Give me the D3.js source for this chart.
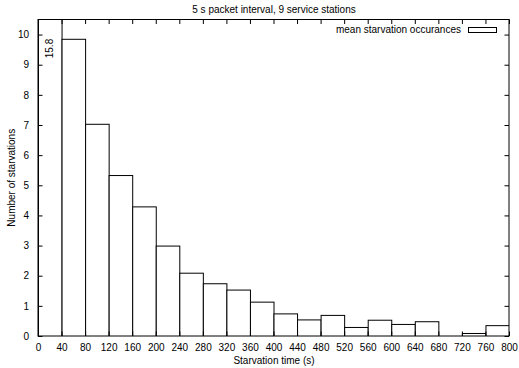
<!DOCTYPE html>
<html>
<head>
<meta charset="utf-8">
<script src="https://cdn.jsdelivr.net/npm/d3@7"></script>
<style>
  html, body { margin: 0; padding: 0; background: #fff; }
  svg { display: block; font-family: "Liberation Sans", Arial, Helvetica, sans-serif; }
</style>
</head>
<body>
<svg id="chart" width="519" height="368"></svg>
<script>
// Histogram bins: lower edge of each 40 s bin
const binStarts = [0, 40, 80, 120, 160, 200, 240, 280, 320, 360, 400, 440, 480, 520, 560, 600, 640, 680, 720, 760];
const binWidth = 40;
// Mean starvation occurrences per bin
const starvations = [15.8, 9.86, 7.04, 5.34, 4.30, 3.0, 2.10, 1.75, 1.54, 1.14, 0.75, 0.55, 0.70, 0.30, 0.54, 0.40, 0.49, 0, 0.10, 0.36];
const xTicks = d3.range(0, 801, 40);
const yTicks = d3.range(0, 11, 1);

const title = "5 s packet interval, 9 service stations";
const xLabel = "Starvation time (s)";
const yLabel = "Number of starvations";
const legendLabel = "mean starvation occurances";

const fontSize = 10;
const svg = d3.select("#chart");
const plotLeft = 38, plotRight = 509, plotTop = 19.5, plotBottom = 336;

const x = d3.scaleLinear().domain([0, 800]).range([plotLeft, plotRight]);
const y = d3.scaleLinear().domain([0, 10.5]).range([plotBottom, plotTop]);

svg.append("clipPath").attr("id", "plotClip")
  .append("rect").attr("x", plotLeft).attr("y", plotTop)
  .attr("width", plotRight - plotLeft).attr("height", plotBottom - plotTop);

// Bars
svg.append("g").attr("clip-path", "url(#plotClip)")
  .selectAll("rect").data(starvations).join("rect")
  .attr("x", (d, i) => x(binStarts[i]) + 0.5)
  .attr("y", d => y(d) + 0.5)
  .attr("width", x(binWidth) - x(0))
  .attr("height", d => y(0) - y(d))
  .attr("fill", "#fff")
  .attr("stroke", "#000")
  .attr("stroke-width", 1);

// Label for the bin that runs off the top of the scale
starvations.forEach((v, i) => {
  if (v > y.domain()[1]) {
    const cx = x(binStarts[i] + binWidth / 2);
    const ty = y(9.86);
    svg.append("text")
      .attr("transform", `translate(${cx + 3.5},${ty}) rotate(-90)`)
      .attr("text-anchor", "end")
      .attr("font-size", fontSize)
      .attr("fill", "#000")
      .text(v.toFixed(1));
  }
});

// Axes with inward ticks (mirrored on top/right)
const tickLen = 4.5;
const fmt = d3.format("d");
svg.append("g").attr("transform", `translate(0,${plotBottom})`)
  .call(d3.axisBottom(x).tickValues(xTicks).tickSize(-tickLen).tickPadding(8).tickFormat(fmt))
  .call(g => g.select(".domain").remove());
svg.append("g").attr("transform", `translate(0,${plotTop})`)
  .call(d3.axisTop(x).tickValues(xTicks).tickSize(-tickLen).tickFormat(""))
  .call(g => g.select(".domain").remove());
svg.append("g").attr("transform", `translate(${plotLeft},0)`)
  .call(d3.axisLeft(y).tickValues(yTicks).tickSize(-tickLen).tickPadding(9).tickFormat(fmt))
  .call(g => g.select(".domain").remove());
svg.append("g").attr("transform", `translate(${plotRight},0)`)
  .call(d3.axisRight(y).tickValues(yTicks).tickSize(-tickLen).tickFormat(""))
  .call(g => g.select(".domain").remove());

svg.selectAll(".tick text").attr("font-size", fontSize).attr("font-family", null).attr("fill", "#000");
svg.selectAll(".tick line").attr("stroke", "#000");

// Plot frame
svg.append("rect")
  .attr("x", plotLeft).attr("y", plotTop)
  .attr("width", plotRight - plotLeft).attr("height", plotBottom - plotTop)
  .attr("fill", "none").attr("stroke", "#000").attr("stroke-width", 1);

// Titles
svg.append("text").attr("x", 274).attr("y", 13)
  .attr("text-anchor", "middle").attr("font-size", fontSize).text(title);
svg.append("text").attr("x", 274).attr("y", 364)
  .attr("text-anchor", "middle").attr("font-size", fontSize).text(xLabel);
svg.append("text")
  .attr("transform", `translate(15,${(plotTop + plotBottom) / 2}) rotate(-90)`)
  .attr("text-anchor", "middle").attr("font-size", fontSize).text(yLabel);

// Legend
svg.append("text").attr("x", 461).attr("y", 33)
  .attr("text-anchor", "end").attr("font-size", fontSize).text(legendLabel);
svg.append("rect").attr("x", 468.5).attr("y", 27.5)
  .attr("width", 28).attr("height", 5)
  .attr("fill", "#fff").attr("stroke", "#000");
</script>
</body>
</html>
